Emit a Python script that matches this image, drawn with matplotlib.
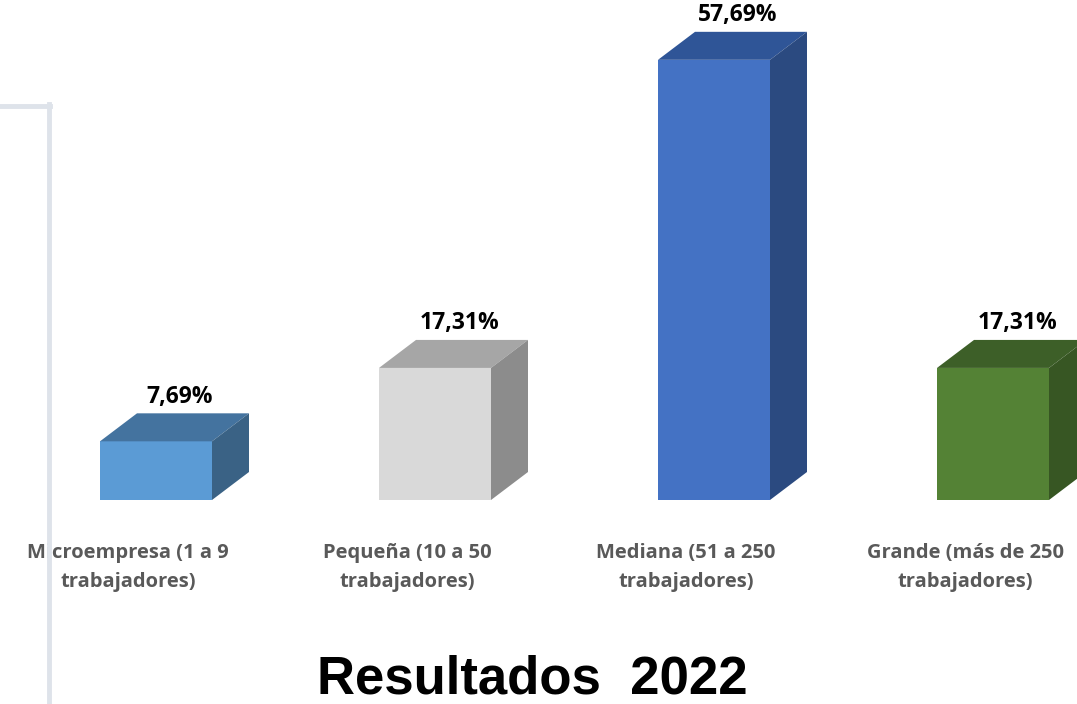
import matplotlib.pyplot as plt
from matplotlib.patches import Polygon
from matplotlib.lines import Line2D

categorias = ["Microempresa (1 a 9\ntrabajadores)",
              "Pequeña (10 a 50\ntrabajadores)",
              "Mediana (51 a 250\ntrabajadores)",
              "Grande (más de 250\ntrabajadores)"]
valores = [7.69, 17.31, 57.69, 17.31]
etiquetas = ["7,69%", "17,31%", "57,69%", "17,31%"]

frente = ["#5B9BD5", "#D9D9D9", "#4472C4", "#548235"]
arriba = ["#44739F", "#A6A6A6", "#2F5597", "#3D5F28"]
lado = ["#3A6285", "#8C8C8C", "#2B4A80", "#375623"]

W, H = 1077, 704
fig = plt.figure(figsize=(W / 100, H / 100), dpi=100)
# axes: y=0 at pixel 500, full figure width
ax = fig.add_axes([0, 1 - 500 / H, 1, 500 / H])
px_x = 279.0          # pixels per category
px_y = 7.63           # pixels per percent
ax.set_xlim(-156 / px_x, (W - 156) / px_x)
ax.set_ylim(0, 500 / px_y)
ax.axis("off")

ancho = 112 / px_x
dx = 37 / px_x
dy = 28 / px_y

x = list(range(len(valores)))
ax.bar(x, valores, width=ancho, color=frente, zorder=3)
for i, v in enumerate(valores):
    l = i - ancho / 2
    r = i + ancho / 2
    ax.add_patch(Polygon([(l, v), (r, v), (r + dx, v + dy), (l + dx, v + dy)],
                         closed=True, color=arriba[i], lw=0, zorder=3))
    ax.add_patch(Polygon([(r, 0), (r + dx, dy), (r + dx, v + dy), (r, v)],
                         closed=True, color=lado[i], lw=0, zorder=3))
    ax.text(i + dx / 2 + 0.02, v + dy + 0.6, etiquetas[i], ha="center", va="bottom",
            fontsize=16.5, fontweight="bold", family="Open Sans", color="black",
            clip_on=False)
    ax.text(i - 0.1, -5.7, categorias[i], ha="center", va="top",
            fontsize=14.5, fontweight="bold", family="Open Sans", color="#595959",
            linespacing=1.55, clip_on=False)

fig.text(532 / W, 1 - 693 / H, "Resultados  2022", ha="center", va="baseline",
         fontsize=38, fontweight="bold", family="Liberation Sans", color="black")

# light frame lines on the left
gris = "#DEE3EA"
fig.add_artist(Line2D([0, 50 / W], [1 - 106 / H, 1 - 106 / H], color=gris, lw=3.5))
fig.add_artist(Line2D([48.5 / W, 48.5 / W], [1 - 104 / H, 0], color=gris, lw=3.5))

fig.savefig("out.png", dpi=100)
